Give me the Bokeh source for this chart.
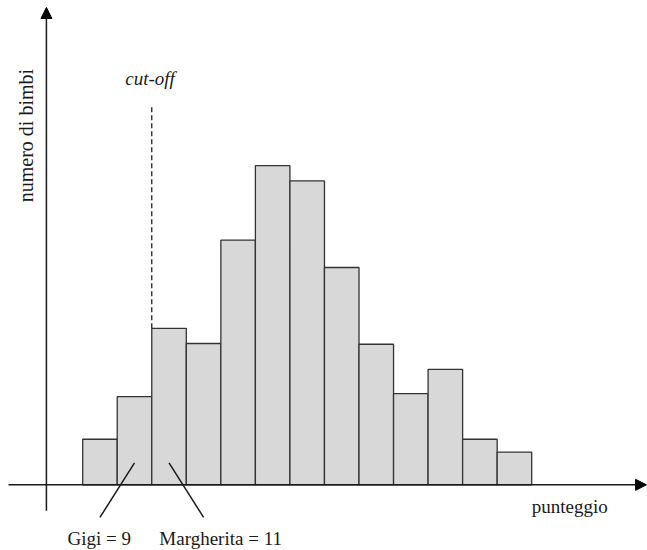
import numpy as np
from bokeh.plotting import figure
from bokeh.models import Arrow, NormalHead, ColumnDataSource, Range1d
from bokeh.core.properties import value
from bokeh.embed import file_html
from bokeh.resources import INLINE

# ---- data ----
bin_centers = [7, 9, 11, 13, 15, 17, 19, 21, 23, 25, 27, 29, 31]
counts = [3.0, 5.8, 10.3, 9.3, 16.1, 21.0, 20.0, 14.3, 9.25, 6.0, 7.6, 3.0, 2.15]
bin_width = 2
cutoff = 10
gigi = 9
margherita = 11
x_label = "punteggio"
y_label = "numero di bimbi"
cut_label = "cut-off"
gigi_label = "Gigi = 9"
margherita_label = "Margherita = 11"

FONT = value("Liberation Serif")

p = figure(width=647, height=550, output_backend="svg", toolbar_location=None,
           x_range=Range1d(1.241, 38.705), y_range=Range1d(-4.32, 31.87),
           min_border=0, min_border_left=0, min_border_right=0,
           min_border_top=0, min_border_bottom=0)
p.axis.visible = False
p.grid.visible = False
p.outline_line_color = None
p.background_fill_color = "white"
p.border_fill_color = "white"

# bars
src = ColumnDataSource(dict(x=bin_centers, top=counts))
p.vbar(x="x", top="top", bottom=0, width=bin_width, source=src,
       fill_color="#d8d8d8", line_color="#333333", line_width=1.3)

# axes with arrows
y_axis_x = 3.9
p.add_layout(Arrow(end=NormalHead(size=11, fill_color="black", line_color="black"),
                   x_start=1.704, y_start=0, x_end=38.65, y_end=0,
                   line_color="#1a1a1a", line_width=1.5))
p.add_layout(Arrow(end=NormalHead(size=11, fill_color="black", line_color="black"),
                   x_start=y_axis_x, y_start=-1.7, x_end=y_axis_x, y_end=31.41,
                   line_color="#1a1a1a", line_width=1.5))

# cut-off dashed line
cut_top = counts[bin_centers.index(cutoff + 1)]
p.segment(x0=[cutoff], y0=[cut_top], x1=[cutoff], y1=[25.0],
          line_color="#1a1a1a", line_width=1.3, line_dash="5 3")
p.text(x=[cutoff - 0.1], y=[26.75], text=[cut_label], text_font=FONT,
       text_font_style="italic", text_font_size="19px", text_align="center",
       text_baseline="alphabetic", text_color="#1a1a1a")

# axis labels
p.text(x=[2.70], y=[22.98], text=[y_label], angle=np.pi / 2, text_font=FONT,
       text_font_size="20px", text_align="center", text_baseline="middle",
       text_color="#1a1a1a")
p.text(x=[32.0], y=[-1.4], text=[x_label], text_font=FONT,
       text_font_size="19px", text_align="left", text_baseline="alphabetic",
       text_color="#1a1a1a")

# leader lines and names
p.segment(x0=[gigi, margherita], y0=[1.44, 1.44],
          x1=[gigi - 2, margherita + 2], y1=[-2.14, -2.14],
          line_color="#1a1a1a", line_width=1.5)
p.text(x=[5.12, 10.44], y=[-3.5, -3.5], text=[gigi_label, margherita_label],
       text_font=FONT, text_font_size="19px", text_align="left",
       text_baseline="alphabetic", text_color="#1a1a1a")

open("out.html", "w").write(file_html(p, INLINE))
